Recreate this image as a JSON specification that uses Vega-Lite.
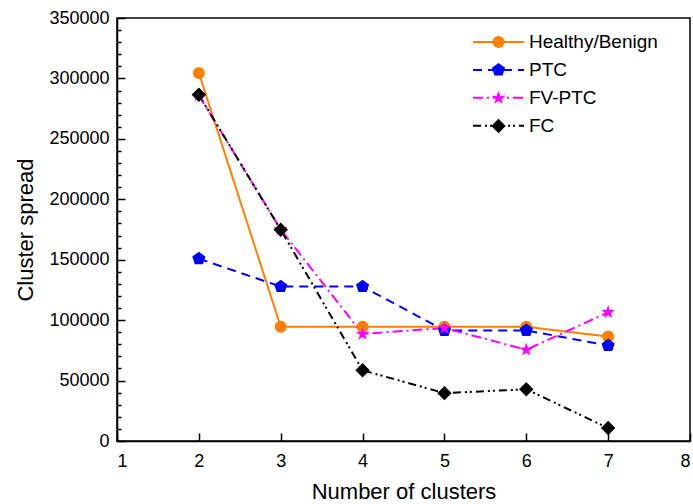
{
  "$schema": "https://vega.github.io/schema/vega-lite/v6.json",
  "width": 573,
  "height": 423,
  "autosize": "none",
  "padding": {"left": 117, "top": 18, "right": 3, "bottom": 63},
  "config": {
    "font": "Liberation Sans",
    "view": {"stroke": "black", "strokeWidth": 1.5},
    "axis": {"grid": false, "domainColor": "black", "domainWidth": 1.5, "tickColor": "black", "tickWidth": 1.5, "labelColor": "black", "titleColor": "black", "titleFontWeight": "normal", "labelFontSize": 18, "titleFontSize": 22},
    "legend": {"labelColor": "black", "labelFontSize": 19, "labelLimit": 300}
  },
  "data": {
    "values": [
      {"series": "Healthy/Benign", "order": 1, "k": 2, "spread": 304500},
      {"series": "Healthy/Benign", "order": 1, "k": 3, "spread": 94500},
      {"series": "Healthy/Benign", "order": 1, "k": 4, "spread": 94500},
      {"series": "Healthy/Benign", "order": 1, "k": 5, "spread": 94500},
      {"series": "Healthy/Benign", "order": 1, "k": 6, "spread": 94500},
      {"series": "Healthy/Benign", "order": 1, "k": 7, "spread": 86400},
      {"series": "PTC", "order": 2, "k": 2, "spread": 150800},
      {"series": "PTC", "order": 2, "k": 3, "spread": 127800},
      {"series": "PTC", "order": 2, "k": 4, "spread": 127800},
      {"series": "PTC", "order": 2, "k": 5, "spread": 91500},
      {"series": "PTC", "order": 2, "k": 6, "spread": 91500},
      {"series": "PTC", "order": 2, "k": 7, "spread": 79000},
      {"series": "FV-PTC", "order": 3, "k": 2, "spread": 286000},
      {"series": "FV-PTC", "order": 3, "k": 3, "spread": 175000},
      {"series": "FV-PTC", "order": 3, "k": 4, "spread": 88500},
      {"series": "FV-PTC", "order": 3, "k": 5, "spread": 93500},
      {"series": "FV-PTC", "order": 3, "k": 6, "spread": 75500},
      {"series": "FV-PTC", "order": 3, "k": 7, "spread": 106500},
      {"series": "FC", "order": 4, "k": 2, "spread": 286500},
      {"series": "FC", "order": 4, "k": 3, "spread": 174800},
      {"series": "FC", "order": 4, "k": 4, "spread": 58500},
      {"series": "FC", "order": 4, "k": 5, "spread": 39600},
      {"series": "FC", "order": 4, "k": 6, "spread": 42800},
      {"series": "FC", "order": 4, "k": 7, "spread": 10700}
    ]
  },
  "layer": [
    {
      "mark": {"type": "line", "strokeWidth": 2},
      "encoding": {
        "x": {
          "field": "k", "type": "quantitative",
          "scale": {"domain": [1, 8], "nice": false, "zero": false},
          "axis": {"title": "Number of clusters", "orient": "bottom", "values": [1, 2, 3, 4, 5, 6, 7, 8], "ticks": false, "tickSize": 0, "labelPadding": 11, "titlePadding": 11}
        },
        "y": {
          "field": "spread", "type": "quantitative",
          "scale": {"domain": [0, 350000], "nice": false},
          "axis": {"title": "Cluster spread", "orient": "left", "values": [0, 50000, 100000, 150000, 200000, 250000, 300000, 350000], "format": "d", "ticks": false, "tickSize": 0, "labelPadding": 8, "titlePadding": 11}
        },
        "color": {
          "field": "series", "type": "nominal",
          "scale": {"domain": ["Healthy/Benign", "PTC", "FV-PTC", "FC"], "range": ["#FF8000", "#0000FF", "#FF00FF", "#000000"]},
          "legend": {"orient": "none", "legendX": 372, "legendY": 14.5, "title": null, "symbolType": "M-4.25,0H4.25", "symbolSize": 144, "symbolStrokeWidth": 2, "symbolFillColor": "transparent", "labelOffset": 21, "rowPadding": 7.9, "padding": 0}
        },
        "strokeDash": {
          "field": "series", "type": "nominal",
          "scale": {"domain": ["Healthy/Benign", "PTC", "FV-PTC", "FC"], "range": [[1, 0], [9, 6], [10, 4, 2, 4], [8, 4, 2, 3, 2, 4]]},
          "legend": {"orient": "none", "legendX": 372, "legendY": 14.5, "title": null, "symbolType": "M-4.25,0H4.25", "symbolSize": 144, "symbolStrokeWidth": 2, "symbolFillColor": "transparent", "labelOffset": 21, "rowPadding": 7.9, "padding": 0}
        },
        "detail": {"field": "order", "type": "ordinal"}
      }
    },
    {
      "mark": {"type": "point", "filled": true, "size": 144, "opacity": 1, "strokeWidth": 0},
      "encoding": {
        "x": {
          "field": "k", "type": "quantitative",
          "axis": {"title": null, "orient": "top", "offset": -423, "values": [1, 2, 3, 4, 5, 6, 7, 8], "labels": false, "domain": false, "tickSize": 8}
        },
        "y": {
          "field": "spread", "type": "quantitative",
          "axis": {"title": null, "orient": "right", "offset": -573, "values": [0, 50000, 100000, 150000, 200000, 250000, 300000, 350000], "labels": false, "domain": false, "tickSize": 8}
        },
        "fill": {
          "field": "series", "type": "nominal", "sort": {"field": "order"},
          "scale": {"range": ["#FF8000", "#0000FF", "#FF00FF", "#000000"]},
          "legend": {"orient": "none", "legendX": 372, "legendY": 14.5, "title": null, "symbolSize": 144, "symbolStrokeWidth": 2, "symbolStrokeColor": "transparent", "labelOffset": 21, "labelExpr": "' '", "rowPadding": 6, "padding": 0}
        },
        "shape": {
          "field": "series", "type": "nominal", "sort": {"field": "order"},
          "scale": {"range": ["circle", "M0,-1.15L1.094,-0.355L0.676,0.930L-0.676,0.930L-1.094,-0.355Z", "M0,-1.2L0.282,-0.389L1.141,-0.371L0.456,0.149L0.705,0.971L0,0.48L-0.705,0.971L-0.456,0.149L-1.141,-0.371L-0.282,-0.389Z", "M0,-1.2L1.2,0L0,1.2L-1.2,0Z"]},
          "legend": {"orient": "none", "legendX": 372, "legendY": 14.5, "title": null, "symbolSize": 144, "symbolStrokeWidth": 2, "symbolStrokeColor": "transparent", "labelOffset": 21, "labelExpr": "' '", "rowPadding": 6, "padding": 0}
        }
      }
    },
    {
      "mark": {"type": "point", "opacity": 0},
      "encoding": {
        "x": {"field": "k", "type": "quantitative", "axis": null},
        "y": {
          "field": "spread", "type": "quantitative",
          "axis": {"title": null, "orient": "right", "offset": -573, "values": [10000, 20000, 30000, 40000, 60000, 70000, 80000, 90000, 110000, 120000, 130000, 140000, 160000, 170000, 180000, 190000, 210000, 220000, 230000, 240000, 260000, 270000, 280000, 290000, 310000, 320000, 330000, 340000], "labels": false, "domain": false, "tickSize": 4}
        }
      }
    }
  ],
  "resolve": {"axis": {"x": "independent", "y": "independent"}}
}
